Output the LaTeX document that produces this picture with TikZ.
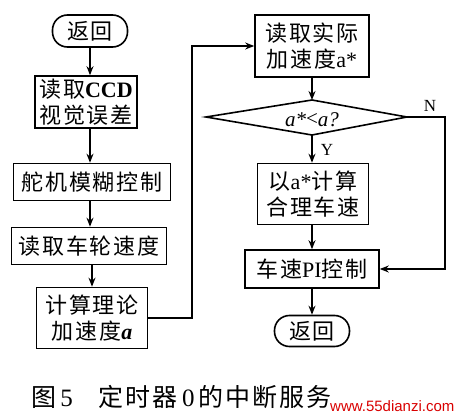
\documentclass[tikz,border=0pt]{standalone}
\usepackage{fontspec}
\setmainfont{Noto Sans CJK SC}[LetterSpace=8]
\newfontfamily\lat{Liberation Serif}
\newfontfamily\wmfont{Liberation Sans}
\usetikzlibrary{arrows.meta}
\begin{document}
\begin{tikzpicture}[x=1pt,y=-1pt,
  box/.style={draw,line width=1.6pt,inner sep=0pt,align=center,font=\fontsize{22}{26}\selectfont},
  term/.style={box,rounded corners=15pt},
  conn/.style={line width=1.6pt},
  arr/.style={conn,-{Stealth[length=9pt,width=7pt]}},
  lbl/.style={font=\lat\fontsize{17}{17}\selectfont,inner sep=0pt}]
\useasboundingbox (0,0) rectangle (464,420);
% left column
\node[term,minimum width=75pt,minimum height=32pt] (ret1) at (90,31) {返回};
\node[box,minimum width=102pt,minimum height=52pt] (ccd) at (86,102) {读取{\lat\bfseries CCD}\\视觉误差};
\node[box,minimum width=157pt,minimum height=37pt] (duoji) at (92,182) {舵机模糊控制};
\node[box,minimum width=155pt,minimum height=37pt] (wheel) at (89,246) {读取车轮速度};
\node[box,minimum width=111pt,minimum height=61pt] (theory) at (92,318) {计算理论\\加速度{\lat\itshape\bfseries a}};
% right column
\node[box,minimum width=114pt,minimum height=62pt] (actual) at (312,46) {读取实际\\加速度{\lat a*}};
\coordinate (dtop) at (312,100);
\coordinate (dbot) at (312,135);
\coordinate (dleft) at (206,117);
\coordinate (dright) at (407,117);
\draw[conn,line join=miter] (dtop) -- (dright) -- (dbot) -- (dleft) -- cycle;
\node[font=\lat\itshape\fontsize{21}{21}\selectfont,inner sep=0pt] (cond) at (312,120) {a*\raisebox{1pt}{\upshape<}a?};
\node[box,minimum width=111pt,minimum height=61pt] (calc) at (313,194) {以{\lat a*}计算\\合理车速};
\node[box,minimum width=134pt,minimum height=38pt] (pi) at (312,269) {车速{\lat PI}控制};
\node[term,minimum width=75pt,minimum height=31pt] (ret2) at (312,331) {返回};
% connectors
\coordinate (lx) at (90,0);
\draw[arr] (ret1) -- (ret1 |- ccd.north);
\draw[arr] (lx |- ccd.south) -- (lx |- duoji.north);
\draw[arr] (lx |- duoji.south) -- (lx |- wheel.north);
\draw[arr] (theory |- wheel.south) -- (theory.north);
\coordinate (c1) at (192,46);
\draw[arr] (theory.east) -- (theory.east -| c1) -- (c1) -- (actual.west);
\draw[arr] (actual) -- (dtop);
\draw[arr] (dbot) -- (dbot |- calc.north);
\node[lbl] (ylab) at (327,150) {Y};
\draw[arr] (dbot |- calc.south) -- (dbot |- pi.north);
\coordinate (c2) at (445,117);
\draw[arr] (dright) -- (c2) -- (c2 |- pi.east) -- (pi.east);
\node[lbl] (nlab) at (430,106) {N};
\draw[arr] (pi) -- (ret2);
% caption
\node[anchor=west,inner sep=0pt,font=\fontsize{25}{25}\selectfont] (cap) at (31,397) {图{\lat\,5}\hspace{26pt}定时器{\lat\,0\,}的中断服务};
\node[anchor=west,inner sep=0pt,text=red!85!black,font=\wmfont\fontsize{15}{15}\selectfont] (wm) at (330,406) {www.55dianzi.com};
\end{tikzpicture}
\end{document}
